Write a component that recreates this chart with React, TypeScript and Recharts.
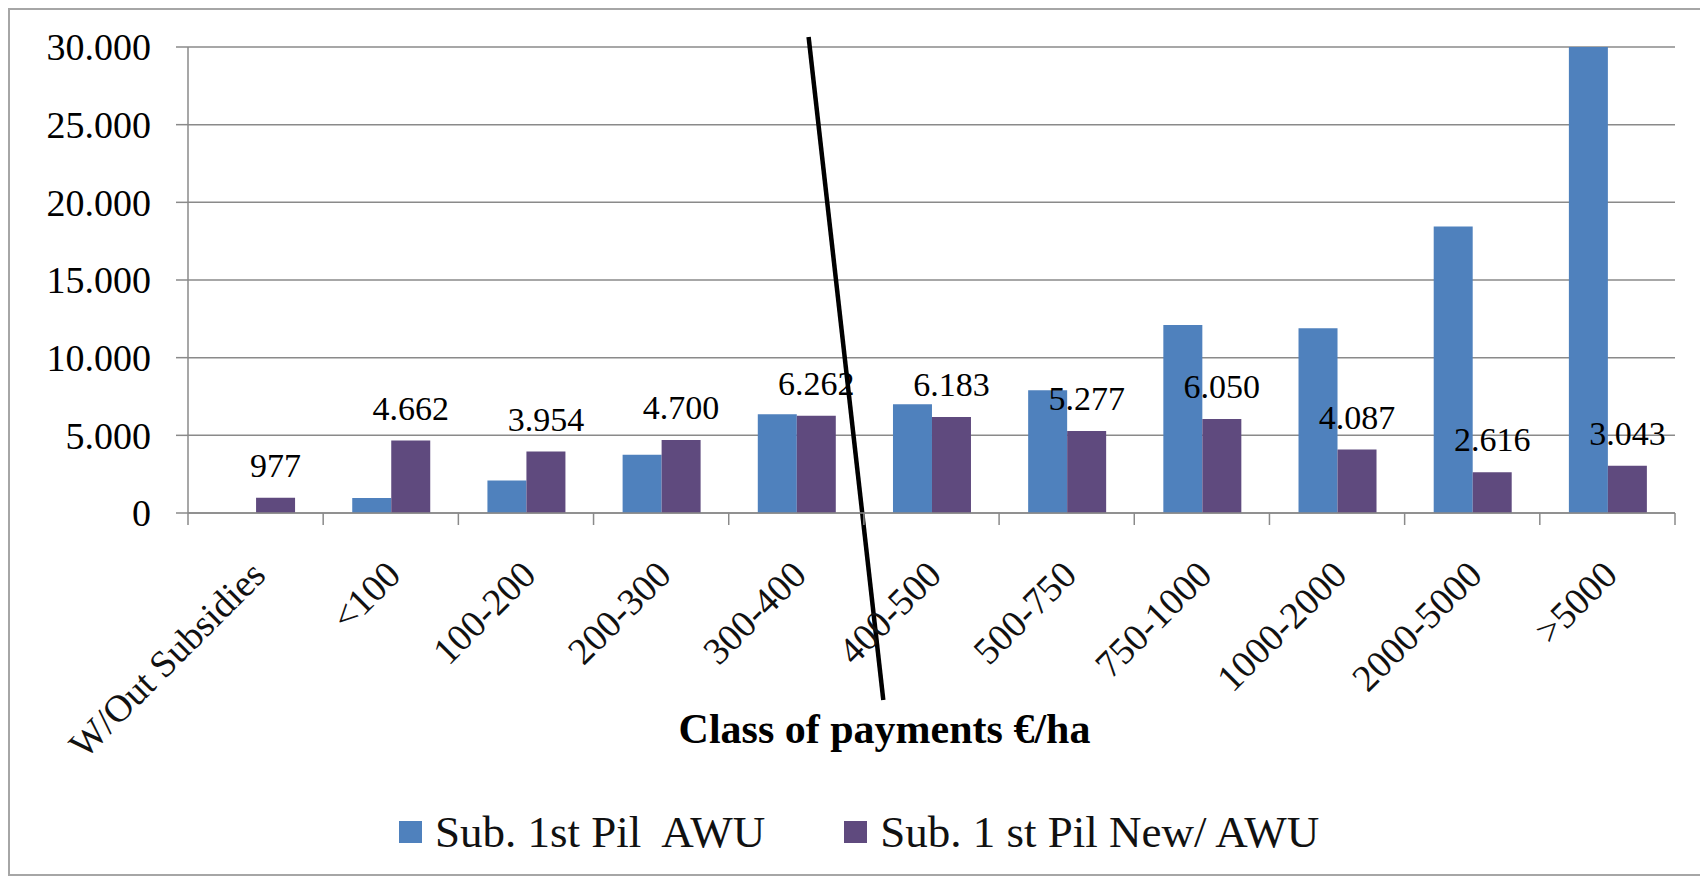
import React from "react";
import {
  Bar,
  BarChart,
  CartesianGrid,
  Customized,
  LabelList,
  Legend,
  XAxis,
  YAxis,
} from "recharts";

const categories = [
  "W/Out Subsidies",
  "<100",
  "100-200",
  "200-300",
  "300-400",
  "400-500",
  "500-750",
  "750-1000",
  "1000-2000",
  "2000-5000",
  ">5000",
];
const firstPillar = [0, 960, 2100, 3750, 6350, 7000, 7900, 12100, 11900, 18450, 30000];
const firstPillarNew = [977, 4662, 3954, 4700, 6262, 6183, 5277, 6050, 4087, 2616, 3043];
const yTicks = [0, 5000, 10000, 15000, 20000, 25000, 30000];
const seriesNames = ["Sub. 1st Pil  AWU", "Sub. 1 st Pil New/ AWU"];
const axisTitle = "Class of payments €/ha";

const colors = ["#4F81BD", "#5F4A7E"];
const gray = "#8a8a8a";
const serif = '"Liberation Serif", "Times New Roman", serif';

const data = categories.map((name, i) => ({
  name,
  pil: firstPillar[i],
  pilNew: firstPillarNew[i],
}));

// 4662 -> "4.662"
const fmt = (v: any) => String(v).replace(/\B(?=(\d{3})+(?!\d))/g, ".");

function XTick(props: any) {
  const { x, y, payload, index } = props;
  const half = payload?.offset ?? 1487 / 11 / 2;
  const ax = x + 12;
  const ay = y + 64;
  return (
    <g>
      <line x1={x - half} y1={y} x2={x - half} y2={y + 12} stroke={gray} strokeWidth={1.5} />
      {index === categories.length - 1 && (
        <line x1={x + half} y1={y} x2={x + half} y2={y + 12} stroke={gray} strokeWidth={1.5} />
      )}
      <text
        x={ax}
        y={ay}
        transform={`rotate(-45, ${ax}, ${ay})`}
        textAnchor="end"
        fontSize={38}
        fontFamily={serif}
        fill="#111"
      >
        {payload.value}
      </text>
    </g>
  );
}

function AxisTitle(props: any) {
  const vb = props.viewBox;
  return (
    <text
      x={vb.x + vb.width / 2 - 47}
      y={vb.y + vb.height - 137}
      textAnchor="middle"
      fontSize={42}
      fontWeight="bold"
      fontFamily={serif}
      fill="#000"
    >
      {axisTitle}
    </text>
  );
}

function LegendContent(props: any) {
  // keep the series order, not the alphabetical one
  const items = [...(props.payload ?? [])].sort(
    (a: any, b: any) => seriesNames.indexOf(a.value) - seriesNames.indexOf(b.value)
  );
  return (
    <div
      style={{
        display: "flex",
        alignItems: "center",
        fontFamily: serif,
        fontSize: 45,
        lineHeight: "46px",
        color: "#111",
      }}
    >
      {items.map((it: any, i: number) => (
        <div key={i} style={{ display: "flex", alignItems: "center", marginLeft: i ? 79 : 0 }}>
          <span
            style={{ display: "inline-block", width: 23, height: 22, background: it.color, marginRight: 13 }}
          />
          <span style={{ whiteSpace: "pre" }}>{it.value}</span>
        </div>
      ))}
    </div>
  );
}

export default function App() {
  return (
    <div
      style={{
        position: "absolute",
        left: 0,
        top: 0,
        width: 1700,
        height: 880,
        overflow: "hidden",
        background: "#fff",
      }}
    >
      <div
        style={{
          position: "absolute",
          left: 8,
          top: 8,
          width: 1730,
          height: 868,
          boxSizing: "border-box",
          border: "2px solid #a6a6a6",
        }}
      />
      <div style={{ position: "absolute", left: 0, top: 0 }}>
        <BarChart
          width={1700}
          height={880}
          data={data}
          margin={{ top: 47, right: 25, bottom: 0, left: 0 }}
          barCategoryGap="21.5%"
          barGap={0}
        >
          <CartesianGrid vertical={false} stroke={gray} strokeWidth={1.5} />
          <XAxis
            dataKey="name"
            height={367}
            interval={0}
            tickSize={0}
            tickMargin={0}
            tickLine={false}
            axisLine={{ stroke: gray, strokeWidth: 1.5 }}
            tick={<XTick />}
            label={{ content: AxisTitle } as any}
          />
          <YAxis
            width={188}
            domain={[0, 30000]}
            ticks={yTicks}
            interval={0}
            tickSize={12}
            tickMargin={25}
            tickLine={{ stroke: gray, strokeWidth: 1.5 }}
            axisLine={{ stroke: gray, strokeWidth: 1.5 }}
            tickFormatter={fmt}
            tick={{ fontSize: 38, fontFamily: serif, fill: "#000" }}
          />
          <Legend
            layout="horizontal"
            verticalAlign="middle"
            align="center"
            wrapperStyle={{ left: 399, top: 809, width: 1100, height: 50 }}
            content={<LegendContent />}
          />
          <Bar dataKey="pil" name={seriesNames[0]} fill={colors[0]} isAnimationActive={false} />
          <Bar dataKey="pilNew" name={seriesNames[1]} fill={colors[1]} isAnimationActive={false}>
            <LabelList
              dataKey="pilNew"
              position="top"
              offset={21}
              formatter={fmt}
              style={{ fontSize: 34, fontFamily: serif, fill: "#000" }}
            />
          </Bar>
          <Customized
            component={() => (
              <line x1={808.6} y1={37} x2={883.3} y2={700} stroke="#000" strokeWidth={4.5} />
            )}
          />
        </BarChart>
      </div>
    </div>
  );
}
